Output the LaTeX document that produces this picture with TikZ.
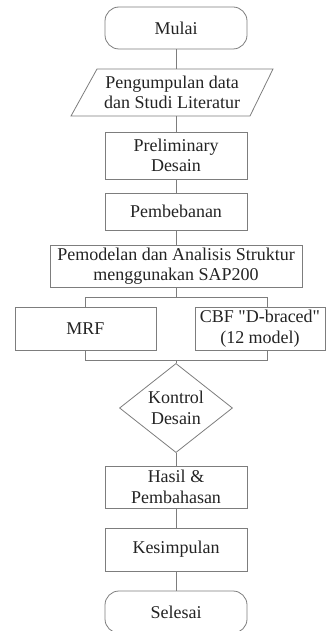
\documentclass[tikz,border=0pt]{standalone}
\usepackage{fontspec}
\setmainfont{Liberation Serif}
\usetikzlibrary{shapes.geometric}
\definecolor{ln}{RGB}{125,125,125}
\definecolor{tx}{RGB}{35,35,35}
\begin{document}
\begin{tikzpicture}[x=1pt,y=-1pt,
  every node/.style={font=\fontsize{18}{20.5}\selectfont, text=tx, align=center},
  box/.style={draw=ln, line width=0.8pt, rectangle, inner sep=0pt},
  term/.style={box, rounded corners=14pt},
  conn/.style={draw=ln, line width=0.8pt}]
\useasboundingbox (0,0) rectangle (325,631);
\node[term, minimum width=142pt, minimum height=42pt] (mulai) at (176,28) {Mulai};
\node[minimum width=178pt, minimum height=47pt, inner sep=0pt] (data) at (172,92.5) {Pengumpulan data\\dan Studi Literatur};
\draw[ln, line width=0.8pt] (71,116) -- (97,69) -- (273,69) -- (250,116) -- cycle;
\node[box, minimum width=142pt, minimum height=47pt] (prelim) at (176,155.5) {Preliminary\\Desain};
\node[box, minimum width=142pt, minimum height=37pt] (beban) at (176,211.5) {Pembebanan};
\node[box, minimum width=252pt, minimum height=42pt] (model) at (176,266) {Pemodelan dan Analisis Struktur\\menggunakan SAP200};
\node[box, minimum width=141pt, minimum height=43pt] (mrf) at (85.5,328.5) {MRF};
\node[box, minimum width=130pt, minimum height=43pt] (cbf) at (260,328.5) {CBF \textquotedbl D-braced\textquotedbl\\(12 model)};
\node[draw=ln, line width=0.8pt, shape=diamond, minimum width=113pt, minimum height=76pt, inner sep=0pt] (kontrol) at (176,408) {Kontrol\\Desain};
\node[box, minimum width=142pt, minimum height=42pt] (hasil) at (176,487) {Hasil \&\\Pembahasan};
\node[box, minimum width=142pt, minimum height=43pt] (kesim) at (176,549.5) {Kesimpulan};
\node[term, minimum width=142pt, minimum height=42pt] (selesai) at (176,612) {Selesai};
\coordinate (s1) at (176,297);
\coordinate (s2) at (176,360);
\path[conn] (mulai) -- (mulai.south |- 0,69);
\path[conn] (176,116) -- (prelim);
\path[conn] (prelim) -- (beban);
\path[conn] (beban) -- (model);
\path[conn] (model) -- (s1);
\path[conn] (s1) -| (85,307);
\path[conn] (s1) -| (267,307);
\path[conn] (85,350) |- (s2);
\path[conn] (267,350) |- (s2);
\path[conn] (s2) -- (kontrol);
\path[conn] (kontrol) -- (hasil);
\path[conn] (hasil) -- (kesim);
\path[conn] (kesim) -- (selesai);
\end{tikzpicture}
\end{document}
